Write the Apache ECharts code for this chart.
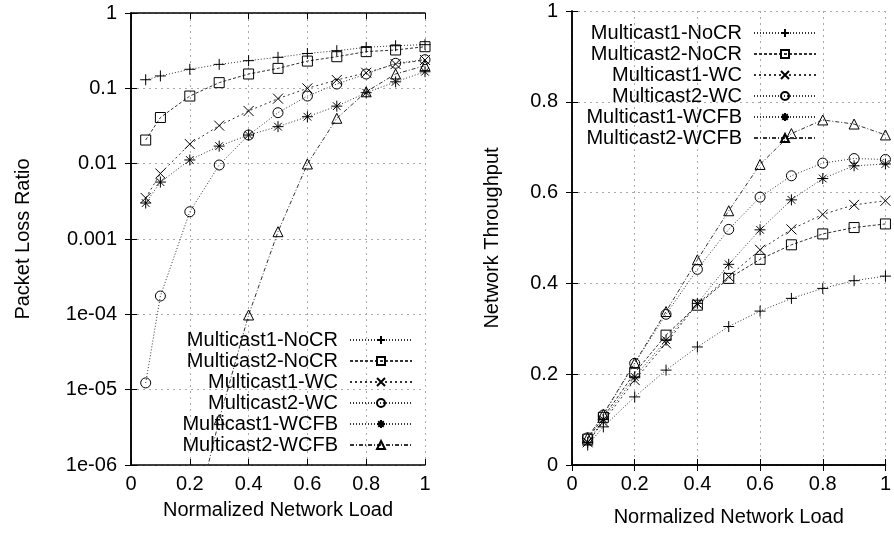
<!DOCTYPE html>
<html>
<head>
<meta charset="utf-8">
<script src="https://cdn.jsdelivr.net/npm/echarts@6/dist/echarts.min.js"></script>
<style>
  html, body { margin: 0; padding: 0; background: #fff; }
  #chart { width: 894px; height: 539px; }
</style>
</head>
<body>
<div id="chart"></div>
<script>
// x positions (normalized network load)
const loadX = [0.05, 0.1, 0.2, 0.3, 0.4, 0.5, 0.6, 0.7, 0.8, 0.9, 1.0];

const seriesNames = [
  "Multicast1-NoCR",
  "Multicast2-NoCR",
  "Multicast1-WC",
  "Multicast2-WC",
  "Multicast1-WCFB",
  "Multicast2-WCFB",
];

// packet loss ratio (left chart)
const lossNoCR1 = [0.13, 0.146, 0.179, 0.208, 0.233, 0.258, 0.29, 0.316, 0.35, 0.368, 0.38];
const lossNoCR2 = [0.0206, 0.041, 0.079, 0.119, 0.155, 0.184, 0.23, 0.263, 0.307, 0.323, 0.357];
const lossWC1 = [0.0035, 0.0074, 0.0182, 0.032, 0.05, 0.073, 0.1, 0.129, 0.161, 0.21, 0.238];
const lossWC2 = [1.23e-5, 1.75e-4, 0.0023, 0.0096, 0.024, 0.0475, 0.079, 0.114, 0.155, 0.215, 0.24];
const lossWCFB1 = [0.003, 0.0057, 0.0112, 0.0171, 0.024, 0.031, 0.042, 0.058, 0.0875, 0.122, 0.166];
const lossWCFB2 = [null, null, 1e-7, 4e-6, 9.8e-5, 0.00125, 0.0099, 0.04, 0.09, 0.155, 0.2];

// network throughput (right chart)
const thrNoCR1 = [0.044, 0.084, 0.15, 0.209, 0.26, 0.305, 0.339, 0.367, 0.389, 0.406, 0.416];
const thrNoCR2 = [0.057, 0.105, 0.203, 0.286, 0.352, 0.411, 0.453, 0.485, 0.509, 0.523, 0.531];
const thrWC1 = [0.05, 0.095, 0.187, 0.268, 0.355, 0.415, 0.474, 0.519, 0.552, 0.573, 0.582];
const thrWC2 = [0.06, 0.11, 0.224, 0.332, 0.431, 0.519, 0.59, 0.637, 0.665, 0.675, 0.673];
const thrWCFB1 = [0.05, 0.1, 0.194, 0.275, 0.356, 0.442, 0.518, 0.584, 0.631, 0.659, 0.663];
const thrWCFB2 = [0.06, 0.112, 0.225, 0.338, 0.452, 0.56, 0.662, 0.73, 0.76, 0.751, 0.727];

const lossTickLabels = ["1e-06", "1e-05", "1e-04", "0.001", "0.01", "0.1", "1"];

const lossData = [lossNoCR1, lossNoCR2, lossWC1, lossWC2, lossWCFB1, lossWCFB2];
const thrData = [thrNoCR1, thrNoCR2, thrWC1, thrWC2, thrWCFB1, thrWCFB2];

// marker + line style per series
const styles = [
  { symbol: "path://M5,0V10M0,5H10", size: 11, dash: [1, 2] },
  { symbol: "rect", size: 10, dash: [3, 2] },
  { symbol: "path://M0,0L10,10M10,0L0,10", size: 10, dash: [2, 3] },
  { symbol: "circle", size: 10, dash: [1, 2] },
  { symbol: "path://M5,0V10M0,5H10M1.5,1.5L8.5,8.5M8.5,1.5L1.5,8.5", size: 11, dash: [1, 2] },
  { symbol: "triangle", size: 10, dash: [4, 2, 1, 2] },
];

const font = "Liberation Sans";
const fs = 20;

function makeSeries(data, gridIdx) {
  return data.map(function (vals, i) {
    let st = styles[i];
    return {
      name: seriesNames[i],
      type: "line",
      xAxisIndex: gridIdx * 2,
      yAxisIndex: gridIdx * 2,
      data: loadX.map((x, j) => [x, vals[j]]),
      symbol: st.symbol,
      symbolSize: st.size,
      showAllSymbol: true,
      clip: true,
      connectNulls: false,
      lineStyle: { color: "#333", width: 1, type: st.dash },
      itemStyle: { color: "rgba(0,0,0,0)", borderColor: "#000", borderWidth: 1 },
      emphasis: { disabled: true },
      animation: false,
    };
  });
}

function xAxes(gridIdx) {
  return [
    {
      gridIndex: gridIdx,
      type: "value",
      min: 0,
      max: 1,
      interval: 0.2,
      name: "Normalized Network Load",
      nameLocation: "middle",
      nameGap: gridIdx == 0 ? 35 : 42,
      nameTextStyle: { fontFamily: font, fontSize: fs, color: "#000" },
      axisLine: { lineStyle: { color: "#000", width: 1.5 } },
      axisTick: { inside: true, length: 6, lineStyle: { color: "#000" } },
      axisLabel: { fontFamily: font, fontSize: fs, color: "#000", margin: 9 },
      splitLine: { show: true, lineStyle: { color: "#aaa", type: [2, 4] } },
    },
    {
      gridIndex: gridIdx,
      type: "value",
      position: "top",
      min: 0,
      max: 1,
      interval: 0.2,
      axisLine: { lineStyle: { color: "#000", width: 1.5 } },
      axisTick: { inside: true, length: 6, lineStyle: { color: "#000" } },
      axisLabel: { show: false },
      splitLine: { show: false },
    },
  ];
}

function legendAt(right, top) {
  return {
    orient: "vertical",
    right: right,
    top: top,
    padding: 0,
    align: "right",
    itemWidth: 62,
    itemHeight: 10,
    itemGap: 1,
    selectedMode: false,
    data: seriesNames,
    textStyle: { fontFamily: font, fontSize: fs, color: "#000", width: 175, align: "right", lineHeight: 20, padding: [0, 7, 0, 0] },
  };
}

var chart = echarts.init(document.getElementById("chart"), null, { renderer: "canvas" });

var option = {
  backgroundColor: "#fff",
  animation: false,
  grid: [
    { left: 131, top: 13, width: 294, height: 452 },
    { left: 572, top: 11, width: 320, height: 454 },
  ],
  xAxis: xAxes(0).concat(xAxes(1)),
  yAxis: [
    {
      gridIndex: 0,
      type: "log",
      logBase: 10,
      min: 1e-6,
      max: 1,
      splitNumber: 6,
      name: "Packet Loss Ratio",
      nameLocation: "middle",
      nameGap: 98,
      nameTextStyle: { fontFamily: font, fontSize: fs, color: "#000" },
      axisLine: { lineStyle: { color: "#000", width: 1.5 } },
      axisTick: { inside: true, length: 6, lineStyle: { color: "#000" } },
      axisLabel: {
        fontFamily: font,
        fontSize: fs,
        color: "#000",
        margin: 14,
        formatter: function (v) {
          let idx = Math.round(Math.log10(v)) + 6;
          return lossTickLabels[idx];
        },
      },
      splitLine: { show: true, lineStyle: { color: "#aaa", type: [2, 4] } },
    },
    {
      gridIndex: 0,
      type: "log",
      logBase: 10,
      position: "right",
      min: 1e-6,
      max: 1,
      splitNumber: 6,
      axisLine: { lineStyle: { color: "#000", width: 1.5 } },
      axisTick: { inside: true, length: 6, lineStyle: { color: "#000" } },
      axisLabel: { show: false },
      splitLine: { show: false },
    },
    {
      gridIndex: 1,
      type: "value",
      min: 0,
      max: 1,
      interval: 0.2,
      name: "Network Throughput",
      nameLocation: "middle",
      nameGap: 70,
      nameTextStyle: { fontFamily: font, fontSize: fs, color: "#000" },
      axisLine: { lineStyle: { color: "#000", width: 1.5 } },
      axisTick: { inside: true, length: 6, lineStyle: { color: "#000" } },
      axisLabel: { fontFamily: font, fontSize: fs, color: "#000", margin: 14 },
      splitLine: { show: true, lineStyle: { color: "#aaa", type: [2, 4] } },
    },
    {
      gridIndex: 1,
      type: "value",
      position: "right",
      min: 0,
      max: 1,
      interval: 0.2,
      axisLine: { lineStyle: { color: "#000", width: 1.5 } },
      axisTick: { inside: true, length: 6, lineStyle: { color: "#000" } },
      axisLabel: { show: false },
      splitLine: { show: false },
    },
  ],
  legend: [legendAt(481, 330), legendAt(77, 23)],
  series: makeSeries(lossData, 0).concat(makeSeries(thrData, 1)),
};

chart.setOption(option);
</script>
</body>
</html>
